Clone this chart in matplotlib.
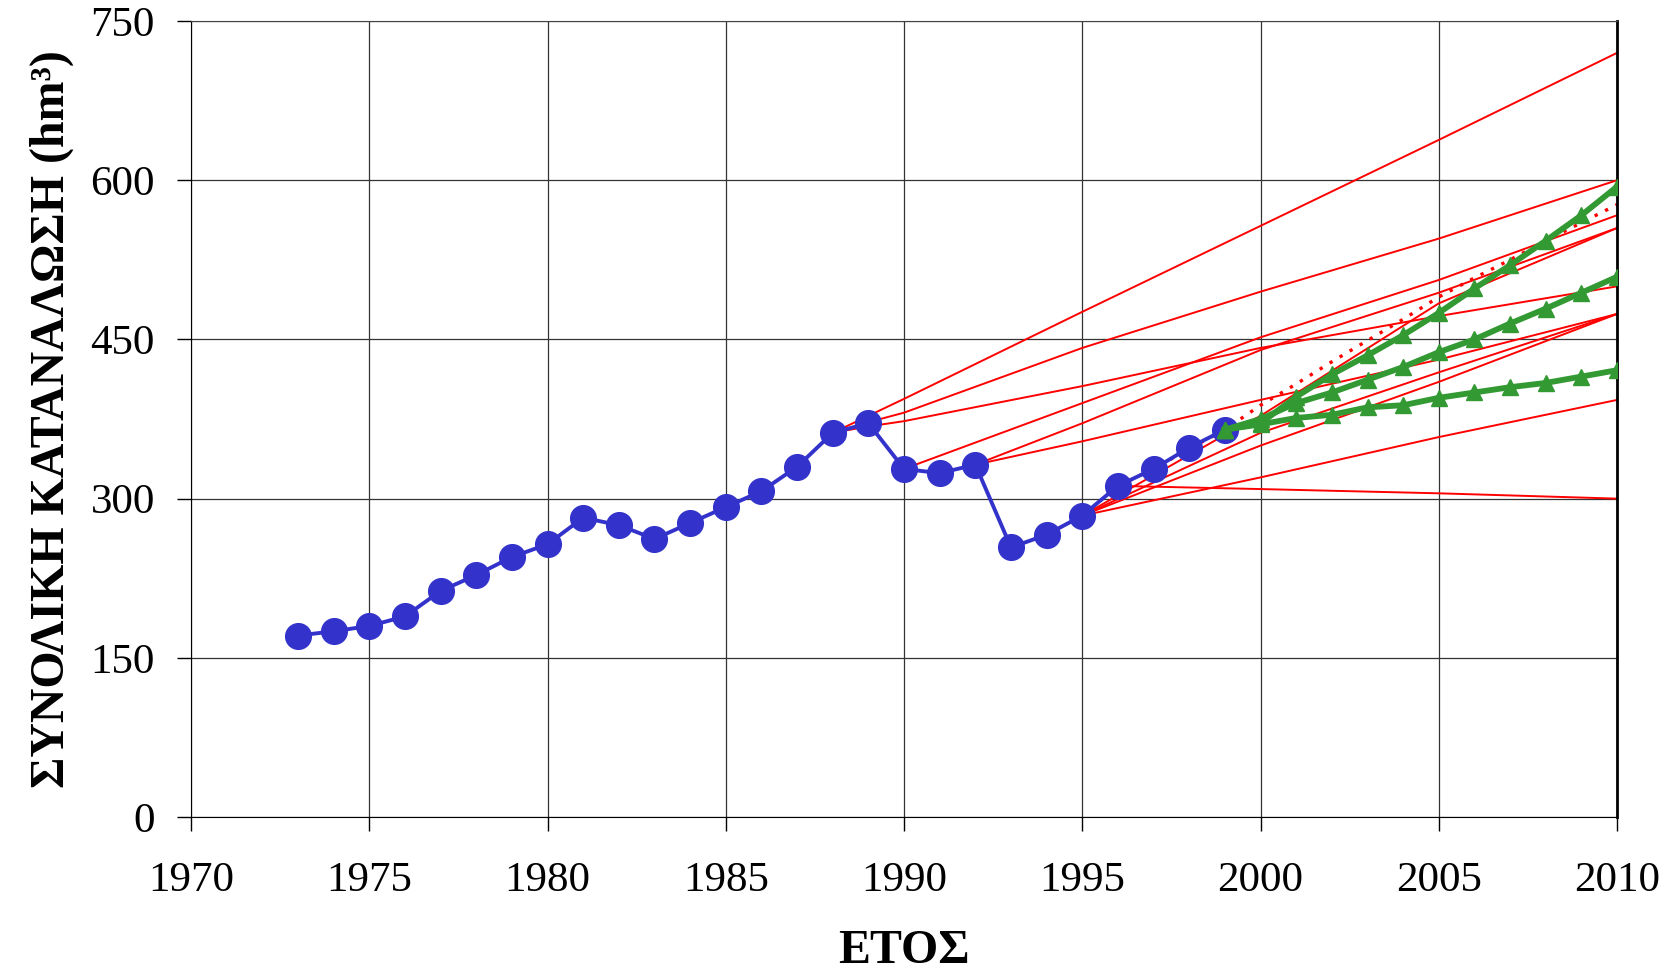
import matplotlib
matplotlib.use("Agg")
import matplotlib.pyplot as plt

plt.rcParams['font.family'] = ['Liberation Serif', 'DejaVu Serif']

# observed consumption (hm3)
years_obs = list(range(1973, 2000))
cons_obs = [171, 175, 180, 189, 213, 228, 245, 257, 282, 275, 262, 277, 292,
            307, 330, 362, 371, 328, 324, 332, 254, 266, 284, 312, 328, 348, 365]

# red forecast lines (year, value)
red_lines = [
    ([1988, 1989, 1990, 1995, 2000, 2005, 2010], [362, 378, 394, 476, 557, 638, 720]),
    ([1988, 1989, 1990, 1995, 2000, 2005, 2010], [362, 372, 381, 442, 495, 545, 600]),
    ([1988, 1989, 1990, 1995, 2000, 2005, 2010], [362, 368, 373, 406, 442, 472, 500]),
    ([1990, 1995, 2000, 2005, 2010], [328, 390, 452, 506, 567]),
    ([1992, 1995, 2000, 2005, 2010], [332, 371, 440, 494, 555]),
    ([1992, 1995, 2000, 2005, 2010], [332, 354, 393, 431, 474]),
    ([1995, 2000, 2005, 2010], [284, 350, 410, 474]),
    ([1995, 2000, 2005, 2010], [284, 362, 419, 474]),
    ([1995, 2000, 2005, 2010], [284, 320, 358, 393]),
    ([1995, 1996, 2000, 2005, 2010], [284, 312, 309, 305, 300]),
    ([1995, 1999, 2000, 2005, 2010], [284, 360, 378, 484, 555]),
]

# dotted red line
years_dot = list(range(1996, 2011))
cons_dot = [312, 328, 347, 365, 388, 408, 429, 449, 469, 490, 508, 525, 543, 560, 577]

# green scenarios
years_green = list(range(1999, 2011))
green_high = [365, 371, 396, 417, 435, 454, 475, 498, 520, 543, 567, 594]
green_mid = [365, 375, 390, 400, 412, 424, 438, 450, 465, 479, 494, 509]
green_low = [365, 370, 376, 379, 386, 388, 395, 400, 405, 409, 415, 421]

fig = plt.figure(figsize=(16.64, 9.73), dpi=100)
ax = fig.add_axes([0.1148, 0.1603, 0.8570, 0.8181])

for xs, ys in red_lines:
    ax.plot(xs, ys, color='#ff0000', lw=1.4, zorder=2)
ax.plot(years_dot, cons_dot, color='#ff0000', lw=2.4, ls=(0, (1, 2.5)), zorder=2)

ax.plot(years_obs, cons_obs, color='#3333cc', lw=2.8, marker='o', ms=18.5, zorder=3)

for g in [green_high, green_mid, green_low]:
    ax.plot(years_green, g, color='#339933', lw=4.2, marker='^', ms=11.5, zorder=4)

ax.set_xlim(1970, 2010)
ax.set_ylim(0, 750)
ax.set_xticks(range(1970, 2011, 5))
ax.set_yticks(range(0, 751, 150))
ax.grid(True, color='#333333', lw=0.9)
ax.set_axisbelow(True)
ax.tick_params(direction='out', length=10, width=1, labelsize=31)
ax.tick_params(axis='x', pad=22)
ax.tick_params(axis='y', pad=16)
for s in ax.spines.values():
    s.set_color('black')
ax.spines['right'].set_linewidth(2)
ax.spines['top'].set_linewidth(0.8)
ax.spines['top'].set_color('#444444')

ax.set_xlabel('ΕΤΟΣ', fontsize=34.5, fontweight='bold', labelpad=21)
ax.set_ylabel('ΣΥΝΟΛΙΚΗ ΚΑΤΑΝΑΛΩΣΗ (hm³)', fontsize=34.5, fontweight='bold', labelpad=12)

fig.savefig('out.png', dpi=100)
